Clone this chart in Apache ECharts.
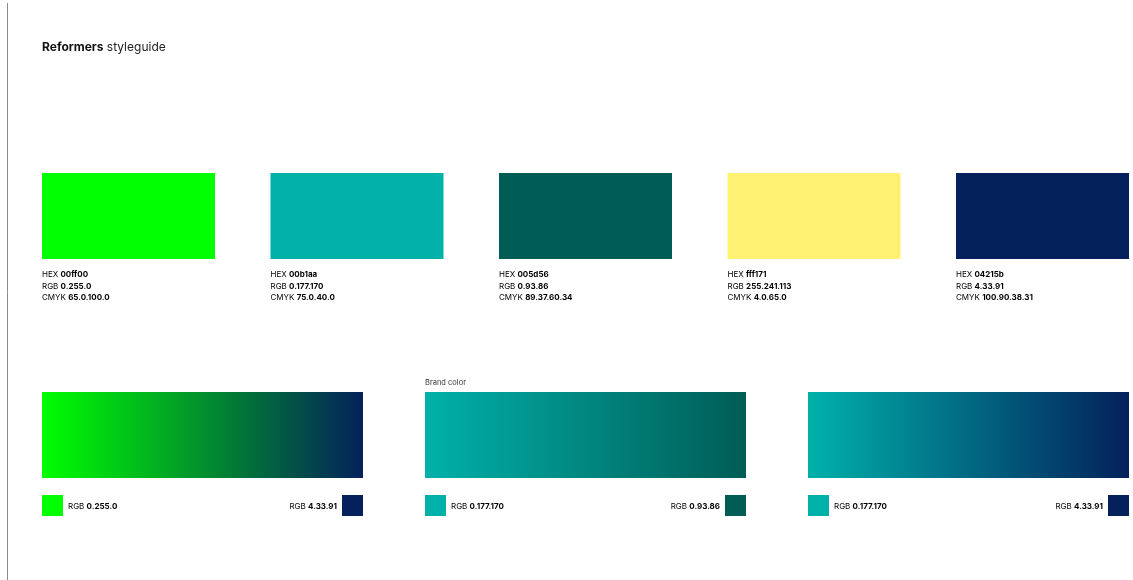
<!DOCTYPE html>
<html>
<head>
<meta charset="utf-8">
<script src="https://cdn.jsdelivr.net/npm/echarts@6/dist/echarts.min.js"></script>
<style>
html, body { margin: 0; padding: 0; background: #fff; }
#chart { width: 1133px; height: 580px; }
</style>
</head>
<body>
<div id="chart"></div>
<script>
// palette
const hexCodes = ['00ff00', '00b1aa', '005d56', 'fff171', '04215b']
const rgbCodes = ['0.255.0', '0.177.170', '0.93.86', '255.241.113', '4.33.91']
const cmykCodes = ['65.0.100.0', '75.0.40.0', '89.37.60.34', '4.0.65.0', '100.90.38.31']
// gradients: [from index, to index]
const gradientPairs = [[0, 4], [1, 2], [1, 4]]
const gradientLabels = ['', 'Brand color', '']

const FONT = 'Inter, "Noto Sans", sans-serif'
const swatchSpan = 173 / 228.5
const gradientSpan = 321 / 383
const chipSize = 21

const rich = {
  n: { fontFamily: FONT, fontSize: 8, fontWeight: 'normal', color: '#444' },
  b: { fontFamily: FONT, fontSize: 8, fontWeight: 'bold', color: '#111' }
}

function labelText (x, y, name, value, align) {
  return {
    type: 'text',
    style: {
      x: x,
      y: y,
      text: '{n|' + name + ' }{b|' + value + '}',
      rich: rich,
      align: align || 'left',
      verticalAlign: 'middle'
    }
  }
}

function renderSwatch (params, api) {
  const i = api.value(0)
  const p0 = api.coord([i, 1])
  const p1 = api.coord([i + swatchSpan, 0])
  return {
    type: 'group',
    children: [
      {
        type: 'rect',
        shape: { x: p0[0], y: p0[1], width: p1[0] - p0[0], height: p1[1] - p0[1] },
        style: { fill: '#' + hexCodes[i] }
      },
      labelText(p0[0], p1[1] + 16, 'HEX', hexCodes[i]),
      labelText(p0[0], p1[1] + 27.5, 'RGB', rgbCodes[i]),
      labelText(p0[0], p1[1] + 39, 'CMYK', cmykCodes[i])
    ]
  }
}

function renderGradient (params, api) {
  const i = api.value(0)
  const pair = gradientPairs[i]
  const from = '#' + hexCodes[pair[0]]
  const to = '#' + hexCodes[pair[1]]
  const p0 = api.coord([i, 1])
  const p1 = api.coord([i + gradientSpan, 0])
  const chipTop = p1[1] + 17
  const children = [
    {
      type: 'rect',
      shape: { x: p0[0], y: p0[1], width: p1[0] - p0[0], height: p1[1] - p0[1] },
      style: {
        fill: new echarts.graphic.LinearGradient(0, 0, 1, 0, [
          { offset: 0, color: from },
          { offset: 1, color: to }
        ])
      }
    },
    {
      type: 'rect',
      shape: { x: p0[0], y: chipTop, width: chipSize, height: chipSize },
      style: { fill: from }
    },
    {
      type: 'rect',
      shape: { x: p1[0] - chipSize, y: chipTop, width: chipSize, height: chipSize },
      style: { fill: to }
    },
    labelText(p0[0] + chipSize + 5, chipTop + chipSize / 2 + 1, 'RGB', rgbCodes[pair[0]]),
    labelText(p1[0] - chipSize - 5, chipTop + chipSize / 2 + 1, 'RGB', rgbCodes[pair[1]], 'right')
  ]
  if (gradientLabels[i]) {
    children.push({
      type: 'text',
      style: {
        x: p0[0],
        y: p0[1] - 9,
        text: gradientLabels[i],
        fontFamily: FONT,
        fontSize: 7.5,
        fill: '#333',
        verticalAlign: 'middle'
      }
    })
  }
  return { type: 'group', children: children }
}

const hiddenAxis = { show: false }

const chart = echarts.init(document.getElementById('chart'))
chart.setOption({
  backgroundColor: '#fff',
  animation: false,
  title: {
    text: '{b|Reformers}{n| styleguide}',
    left: 42,
    top: 41,
    padding: 0,
    textStyle: {
      rich: {
        b: { fontFamily: FONT, fontSize: 12, fontWeight: 'bold', color: '#111' },
        n: { fontFamily: FONT, fontSize: 12, fontWeight: 'normal', color: '#222' }
      }
    }
  },
  graphic: [{
    type: 'line',
    shape: { x1: 7.5, y1: 3, x2: 7.5, y2: 580 },
    style: { stroke: '#8a8a8a', lineWidth: 1 }
  }],
  grid: [
    { left: 42, right: 4, top: 173, height: 86 },
    { left: 42, right: 4, top: 392, height: 86 }
  ],
  xAxis: [
    Object.assign({ type: 'value', gridIndex: 0, min: 0, max: hexCodes.length - 1 + swatchSpan }, hiddenAxis),
    Object.assign({ type: 'value', gridIndex: 1, min: 0, max: gradientPairs.length - 1 + gradientSpan }, hiddenAxis)
  ],
  yAxis: [
    Object.assign({ type: 'value', gridIndex: 0, min: 0, max: 1 }, hiddenAxis),
    Object.assign({ type: 'value', gridIndex: 1, min: 0, max: 1 }, hiddenAxis)
  ],
  series: [
    {
      type: 'custom',
      xAxisIndex: 0,
      yAxisIndex: 0,
      renderItem: renderSwatch,
      data: hexCodes.map((h, i) => [i])
    },
    {
      type: 'custom',
      xAxisIndex: 1,
      yAxisIndex: 1,
      renderItem: renderGradient,
      data: gradientPairs.map((p, i) => [i])
    }
  ]
})
</script>
</body>
</html>
